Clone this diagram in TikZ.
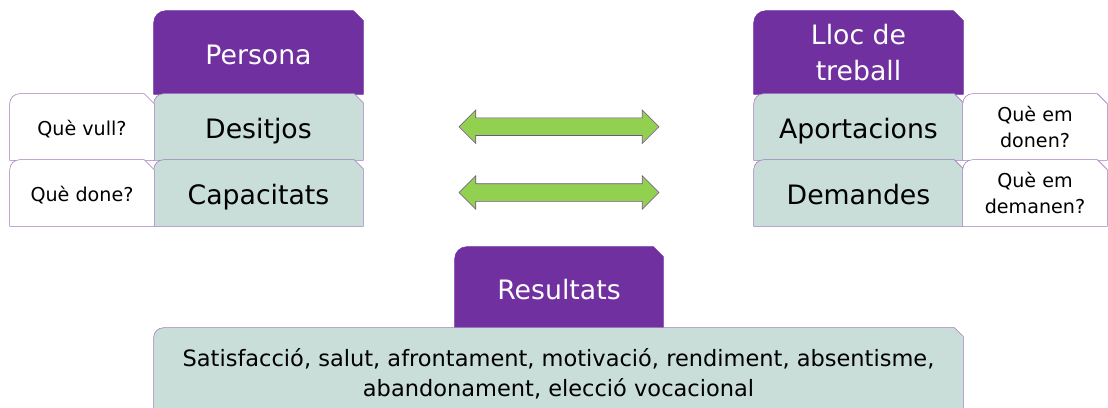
\documentclass[tikz,border=0pt]{standalone}
\usepackage{fontspec}
\setmainfont{DejaVu Sans}
\usetikzlibrary{shapes.arrows,backgrounds}
\definecolor{cpurple}{RGB}{112,48,160}
\definecolor{cteal}{RGB}{201,221,217}
\definecolor{cline}{RGB}{160,122,190}
\definecolor{cgreen}{RGB}{146,208,80}
\tikzset{px/.style={x=0.025cm,y=-0.025cm}}
\tikzset{head/.style={text=white,font=\fontsize{19}{25}\selectfont,align=center,
           minimum width=5.225cm,minimum height=2.075cm,inner sep=0pt},
         item/.style={font=\fontsize{19}{22}\selectfont,text height=20.4pt,text depth=4pt,
           minimum width=5.225cm,minimum height=1.65cm,inner sep=0pt},
         ask/.style={font=\fontsize{13.6}{18.5}\selectfont,align=center,
           minimum width=3.6cm,minimum height=1.65cm,inner sep=0pt},
         twoway/.style={double arrow,fill=cgreen,draw=cpurple!60!gray,thin,inner xsep=0pt,
           inner ysep=0.2125cm,double arrow head extend=0.2cm,minimum height=5cm}}
\tikzset{headbox/.style={fill=cpurple,draw=cpurple},
         itembox/.style={fill=cteal,draw=cline},
         askbox/.style={fill=white,draw=cline}}
% outline: round top left corner, snipped top right corner
\newcommand\tabbox[4]{\draw[#4] (#1.south west) [rounded corners=#2] -- (#1.north west) [sharp corners]
  -- ([xshift=-#3]#1.north east) -- ([yshift=-#3]#1.north east) -- (#1.south east) -- cycle;}

\begin{document}
\begin{tikzpicture}[px]
    \useasboundingbox (0,0) rectangle (1108,407);
    % left column
    \node[head,text height=17pt,text depth=0pt] (persona) at (258.5,52.5) {Persona};
    \node[item] (desitjos) at (258.5,127) {Desitjos};
    \node[item] (capacitats) at (258.5,193) {Capacitats};
    \node[ask,text height=14.8pt,text depth=3pt] (vull) at (82,127) {Què vull?};
    \node[ask,text height=14.8pt,text depth=3pt] (done) at (82,193) {Què done?};
    % right column
    \node[head] (lloc) at (858.5,52.5) {Lloc de\\treball};
    \node[item] (aportacions) at (858.5,127) {Aportacions};
    \node[item] (demandes) at (858.5,193) {Demandes};
    \node[ask] (donen) at (1035,127) {Què em\\donen?};
    \node[ask] (demanen) at (1035,193) {Què em\\demanen?};
    % results
    \node[head,text height=17pt,text depth=0pt,minimum width=5.2cm,minimum height=2.025cm] (resultats) at (559,287.5) {Resultats};
    \node[item,font=\fontsize{16}{21.3}\selectfont,text height=,text depth=,align=center,minimum width=20.225cm,minimum height=2.3cm]
      (efectes) at (558.5,374) {Satisfacció, salut, afrontament, motivació, rendiment, absentisme,\\abandonament, elecció vocacional};
    \node[twoway] (arrA) at (559,126.7) {};
    \node[twoway] (arrB) at (559,192.5) {};
    \begin{scope}[on background layer]
      \foreach \b in {persona,lloc,resultats} {\tabbox{\b}{0.3cm}{0.25cm}{headbox}}
      \foreach \b in {desitjos,capacitats,aportacions,demandes,efectes} {\tabbox{\b}{0.25cm}{0.225cm}{itembox}}
      \foreach \b in {vull,done,donen,demanen} {\tabbox{\b}{0.25cm}{0.25cm}{askbox}}
    \end{scope}
\end{tikzpicture}
\end{document}
